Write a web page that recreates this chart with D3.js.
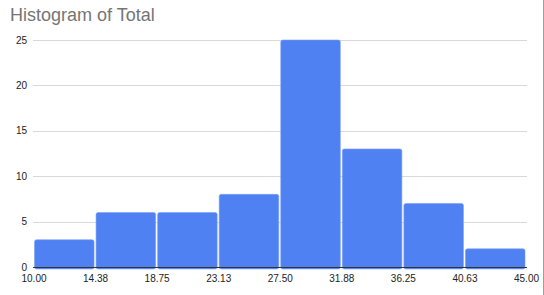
<!DOCTYPE html>
<html><head><meta charset="utf-8">
<script src="https://cdn.jsdelivr.net/npm/d3@7"></script>
<style>
html,body{margin:0;padding:0;background:#fff;}
svg{display:block;font-family:Arial,"Liberation Sans",sans-serif;}
</style></head>
<body>
<svg id="c" width="544" height="295"></svg>
<script>
const binStarts = [10, 14.375, 18.75, 23.125, 27.5, 31.875, 36.25, 40.625];
const binEnds   = [14.375, 18.75, 23.125, 27.5, 31.875, 36.25, 40.625, 45];
const counts    = [3, 6, 6, 8, 25, 13, 7, 2];
const xTicks    = [10, 14.375, 18.75, 23.125, 27.5, 31.875, 36.25, 40.625, 45];
const xTickLabels = ["10.00","14.38","18.75","23.13","27.50","31.88","36.25","40.63","45.00"];
const yTicks    = [0, 5, 10, 15, 20, 25];
const title = "Histogram of Total";

const svg = d3.select("#c");
const x = d3.scaleLinear().domain([10, 45]).range([34, 526.5]);
const y = d3.scaleLinear().domain([0, 25]).range([267, 40]);

svg.append("text").attr("x", 10).attr("y", 21)
  .attr("font-size", 18).attr("fill", "#757575").text(title);

// gridlines
svg.append("g").selectAll("line").data(yTicks.filter(d => d > 0)).join("line")
  .attr("x1", 33).attr("x2", 527)
  .attr("y1", d => Math.round(y(d)) + 0.5).attr("y2", d => Math.round(y(d)) + 0.5)
  .attr("stroke", "#d9d9d9").attr("stroke-width", 1);

// y labels
svg.append("g").selectAll("text").data(yTicks).join("text")
  .attr("x", 27).attr("y", d => y(d)).attr("dy", "0.35em")
  .attr("text-anchor", "end").attr("font-size", 10).attr("fill", "#222")
  .text(d => d);

// bars
const bins = counts.map((c, i) => ({x0: binStarts[i], x1: binEnds[i], c}));
svg.append("g").selectAll("rect").data(bins).join("rect")
  .attr("x", d => x(d.x0) + 0.5)
  .attr("width", d => x(d.x1) - x(d.x0) - 2)
  .attr("y", d => y(d.c))
  .attr("height", d => y(0) - y(d.c) + 2)
  .attr("rx", 2)
  .attr("fill", "#4f81f3").attr("stroke", "#7a9ff6").attr("stroke-width", 0.6);

// baseline
svg.append("line").attr("x1", 33).attr("x2", 527)
  .attr("y1", 267.5).attr("y2", 267.5).attr("stroke", "#333").attr("stroke-width", 1);

// x labels
svg.append("g").selectAll("text").data(xTicks).join("text")
  .attr("x", d => x(d)).attr("y", 282)
  .attr("text-anchor", "middle").attr("font-size", 10).attr("fill", "#222")
  .text((d, i) => xTickLabels[i]);

// right border
svg.append("line").attr("x1", 543.5).attr("x2", 543.5).attr("y1", 0).attr("y2", 295)
  .attr("stroke", "#9e9e9e").attr("stroke-width", 1);
</script>
</body></html>
